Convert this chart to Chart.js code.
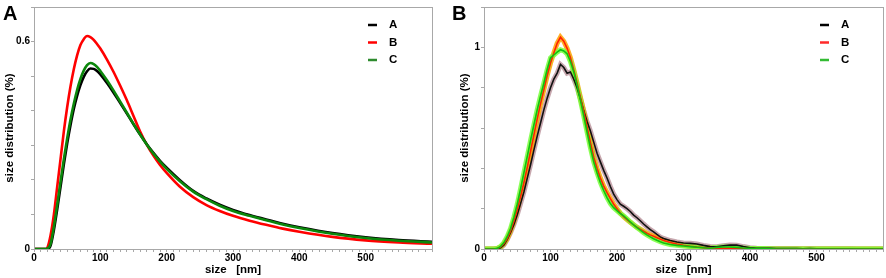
<!DOCTYPE html>
<html>
<head>
<meta charset="utf-8">
<script src="https://cdn.jsdelivr.net/npm/chart.js@4.4.1/dist/chart.umd.min.js"></script>
<style>
  body { margin: 0; background: #fff; width: 886px; height: 278px; overflow: hidden; position: relative; }
  canvas { position: absolute; top: 0; }
  #chartA { left: 0; }
  #chartB { left: 443px; }
  .panel { position: absolute; top: 2px; font: bold 20px "Liberation Sans", Arial, sans-serif; color: #000; }
</style>
</head>
<body>
<canvas id="chartA" width="443" height="278"></canvas>
<canvas id="chartB" width="443" height="278"></canvas>
<div class="panel" style="left:3px">A</div>
<div class="panel" style="left:452px">B</div>
<script>
// panel A - fitted size distributions
var sizeA = [0, 10, 18, 20, 25, 30, 35, 40, 45, 50, 55, 60, 65, 70, 75, 80, 85, 90, 95, 100,
    110, 120, 130, 140, 150, 160, 170, 180, 190, 200, 220, 240, 260, 280, 300, 325, 350, 375, 400,
    450, 500, 550, 600];
var distA_A = [0, 0, 0, 0, 0.01, 0.055, 0.115, 0.18, 0.245, 0.305, 0.358, 0.405, 0.443, 0.474, 0.498, 0.514, 0.522, 0.521, 0.515, 0.505,
    0.48, 0.452, 0.422, 0.392, 0.361, 0.331, 0.303, 0.278, 0.255, 0.235, 0.199, 0.168, 0.146, 0.128, 0.113, 0.098, 0.085, 0.073, 0.063,
    0.046, 0.034, 0.026, 0.021];
var distA_B = [0, 0, 0, 0.003, 0.04, 0.10, 0.18, 0.26, 0.34, 0.41, 0.47, 0.52, 0.56, 0.59, 0.607, 0.616, 0.613, 0.605, 0.593, 0.58,
    0.548, 0.512, 0.472, 0.43, 0.385, 0.34, 0.302, 0.27, 0.243, 0.22, 0.18, 0.15, 0.127, 0.11, 0.096, 0.082, 0.07, 0.059, 0.05,
    0.035, 0.025, 0.019, 0.015];
var distA_C = [0, 0, 0, 0.001, 0.015, 0.065, 0.128, 0.195, 0.26, 0.32, 0.374, 0.42, 0.46, 0.492, 0.516, 0.532, 0.538, 0.535, 0.527, 0.515,
    0.488, 0.458, 0.426, 0.394, 0.362, 0.331, 0.302, 0.276, 0.253, 0.232, 0.196, 0.166, 0.144, 0.125, 0.11, 0.096, 0.083, 0.071, 0.061,
    0.044, 0.032, 0.024, 0.019];

// panel B - measured distributions
var sizeB = [0, 5, 10, 15, 20, 25, 30, 35, 40, 45, 50, 55, 60, 65, 70, 75, 80, 85, 90, 95,
    100, 105, 110, 115, 120, 125, 130, 135, 140, 145, 150, 155, 160, 165, 170, 175, 180, 185, 190, 195,
    200, 205, 210, 215, 220, 225, 230, 235, 240, 245, 250, 255, 260, 265, 270,
    280, 290, 300, 310, 320, 330, 340, 350, 360, 370, 380, 390, 400, 410, 420, 430, 440, 450, 460, 470,
    480, 490, 500, 510, 520, 530, 540, 550, 560, 570, 580, 590, 600];
var distB_A = [0, 0, 0, 0, 0.001, 0.006, 0.02, 0.048, 0.082, 0.122, 0.17, 0.225, 0.283, 0.35, 0.418, 0.49, 0.56, 0.625, 0.69, 0.748,
    0.8, 0.842, 0.872, 0.915, 0.9, 0.872, 0.878, 0.842, 0.8, 0.745, 0.685, 0.632, 0.585, 0.53, 0.475, 0.432, 0.39, 0.352, 0.31, 0.272,
    0.245, 0.222, 0.212, 0.2, 0.186, 0.168, 0.155, 0.14, 0.124, 0.11, 0.096, 0.085, 0.072, 0.06, 0.052,
    0.042, 0.035, 0.03, 0.028, 0.025, 0.018, 0.012, 0.011, 0.016, 0.02, 0.019, 0.012, 0.006, 0.004, 0.003, 0.003, 0.002, 0.002, 0.002, 0.002,
    0.001, 0.002, 0.001, 0.001, 0.001, 0.001, 0.001, 0.001, 0, 0, 0, 0, 0];
var distB_B = [0, 0, 0, 0, 0.002, 0.01, 0.026, 0.052, 0.09, 0.138, 0.195, 0.26, 0.33, 0.405, 0.485, 0.565, 0.645, 0.72, 0.79, 0.86,
    0.922, 0.972, 1.02, 1.05, 1.03, 0.995, 0.948, 0.888, 0.822, 0.752, 0.682, 0.605, 0.528, 0.455, 0.4, 0.352, 0.312, 0.28, 0.25, 0.222,
    0.2, 0.178, 0.16, 0.146, 0.132, 0.12, 0.108, 0.098, 0.088, 0.078, 0.07, 0.063, 0.056, 0.049, 0.042,
    0.032, 0.025, 0.019, 0.014, 0.01, 0.007, 0.005, 0.004, 0.003, 0.003, 0.002, 0.002, 0.001, 0, 0, 0, 0, 0, 0, 0,
    0, 0, 0, 0, 0, 0, 0, 0, 0, 0, 0, 0, 0];
var distB_C = [0, 0, 0, 0, 0.003, 0.013, 0.032, 0.062, 0.102, 0.158, 0.222, 0.298, 0.378, 0.458, 0.538, 0.615, 0.69, 0.758, 0.822, 0.89,
    0.948, 0.962, 0.976, 0.988, 0.982, 0.968, 0.93, 0.878, 0.812, 0.738, 0.66, 0.58, 0.502, 0.432, 0.378, 0.33, 0.29, 0.255, 0.225, 0.205,
    0.19, 0.176, 0.164, 0.15, 0.134, 0.12, 0.106, 0.094, 0.081, 0.07, 0.06, 0.051, 0.043, 0.036, 0.03,
    0.022, 0.018, 0.015, 0.012, 0.009, 0.006, 0.004, 0.008, 0.01, 0.01, 0.008, 0.005, 0.003, 0.002, 0.002, 0.001, 0, 0, 0, 0,
    0, 0, 0, 0, 0, 0, 0, 0, 0, 0, 0, 0, 0];

var seriesNames = ['A', 'B', 'C'];
var xTickLabels = [0, 100, 200, 300, 400, 500];

var FONT = '"Liberation Sans", Arial, sans-serif';

function pts(xs, ys) {
    return xs.map(function (x, i) { return { x: x, y: ys[i] }; });
}

// grey frame round the plot area
var framePlugin = {
    id: 'frame',
    afterDatasetsDraw: function (chart) {
        var a = chart.chartArea, ctx = chart.ctx;
        ctx.save();
        ctx.strokeStyle = '#a8a8a8';
        ctx.lineWidth = 1;
        ctx.strokeRect(Math.round(a.left) + 0.5, Math.round(a.top) + 0.5, Math.round(a.right - a.left), Math.round(a.bottom - a.top));
        ctx.restore();
    }
};

// legend drawn inside the plot, top right
var innerLegend = {
    id: 'innerLegend',
    afterDraw: function (chart, args, opts) {
        var ctx = chart.ctx;
        ctx.save();
        ctx.font = 'bold 11.5px ' + FONT;
        ctx.textBaseline = 'middle';
        ctx.fillStyle = '#000';
        var y = opts.top;
        seriesNames.forEach(function (name) {
            var ds = chart.data.datasets.find(function (d) { return d.label === name; });
            ctx.strokeStyle = ds.legendColor;
            ctx.lineWidth = 2.5;
            ctx.beginPath();
            ctx.moveTo(opts.x, y);
            ctx.lineTo(opts.x + 9, y);
            ctx.stroke();
            ctx.fillText(name, opts.x + 21, y);
            y += opts.gap;
        });
        ctx.restore();
    }
};

function makeScales(yMax, yStep, yLabels, yWidth, titlePad) {
    return {
        x: {
            type: 'linear', min: 0, max: 600,
            border: { display: false },
            grid: { drawOnChartArea: false, tickLength: 3, color: '#a8a8a8' },
            ticks: {
                stepSize: 10, autoSkip: false, maxRotation: 0, padding: 0, color: '#000',
                font: { family: FONT, size: 10, weight: 'bold' },
                callback: function (v) { return xTickLabels.indexOf(v) >= 0 ? String(v) : ''; }
            },
            title: { display: true, text: 'size   [nm]', color: '#000', padding: { top: 0, bottom: 1 },
                font: { family: FONT, size: 11.5, weight: 'bold' } },
            afterFit: function (s) { s.height = 29; }
        },
        y: {
            min: 0, max: yMax,
            border: { display: false },
            grid: { drawOnChartArea: false, tickLength: 3, color: '#a8a8a8' },
            ticks: {
                stepSize: yStep, autoSkip: false, padding: 1, color: '#000',
                font: { family: FONT, size: 10, weight: 'bold' },
                callback: function (v) {
                    for (var i = 0; i < yLabels.length; i++) {
                        if (Math.abs(v - yLabels[i]) < 1e-9) return String(yLabels[i]);
                    }
                    return '';
                }
            },
            title: { display: true, text: 'size distribution (%)', color: '#000', padding: { top: titlePad, bottom: 0 },
                font: { family: FONT, size: 11.5, weight: 'bold' } },
            afterFit: function (s) { s.width = yWidth; }
        }
    };
}

function baseOptions(scales, padLeft, padRight, legendX) {
    return {
        responsive: false,
        animation: false,
        devicePixelRatio: 1,
        layout: { padding: { left: padLeft, right: padRight, top: 3, bottom: 0 } },
        plugins: {
            legend: { display: false },
            tooltip: { enabled: false },
            innerLegend: { x: legendX, top: 25, gap: 17.5 }
        },
        elements: { point: { radius: 0 } },
        scales: scales
    };
}

// panel A
new Chart(document.getElementById('chartA'), {
    type: 'line',
    data: {
        datasets: [
            { label: 'C', data: pts(sizeA, distA_C), borderColor: '#0b870b', legendColor: '#2e8b2e', borderWidth: 2.6, tension: 0.4, cubicInterpolationMode: 'monotone', order: 1 },
            { label: 'A', data: pts(sizeA, distA_A), borderColor: '#000000', legendColor: '#000000', borderWidth: 2.6, tension: 0.4, cubicInterpolationMode: 'monotone', order: 2 },
            { label: 'B', data: pts(sizeA, distA_B), borderColor: '#ff0000', legendColor: '#ff0000', borderWidth: 2.6, tension: 0.4, cubicInterpolationMode: 'monotone', order: 3 }
        ]
    },
    options: baseOptions(makeScales(0.7, 0.1, [0, 0.6], 34, 3), 0, 11, 368),
    plugins: [framePlugin, innerLegend]
});

// panel B - each series with a translucent band behind it
new Chart(document.getElementById('chartB'), {
    type: 'line',
    data: {
        datasets: [
            { label: 'C', data: pts(sizeB, distB_C), borderColor: '#10c010', legendColor: '#33bb33', borderWidth: 1.6, tension: 0, order: 1 },
            { label: 'B', data: pts(sizeB, distB_B), borderColor: '#ff2200', legendColor: '#ff2a2a', borderWidth: 1.6, tension: 0, order: 2 },
            { label: 'A', data: pts(sizeB, distB_A), borderColor: '#111111', legendColor: '#000000', borderWidth: 1.6, tension: 0, order: 3 },
            { label: 'C band', data: pts(sizeB, distB_C), borderColor: 'rgba(120,255,60,0.85)', borderWidth: 5, tension: 0, order: 4 },
            { label: 'B band', data: pts(sizeB, distB_B), borderColor: 'rgba(255,160,0,0.85)', borderWidth: 5, tension: 0, order: 5 },
            { label: 'A band', data: pts(sizeB, distB_A), borderColor: 'rgba(175,130,140,0.7)', borderWidth: 5, tension: 0, order: 6 }
        ]
    },
    options: baseOptions(makeScales(1.2, 0.2, [0, 1], 29, 3), 12, 3, 377),
    plugins: [framePlugin, innerLegend]
});
</script>
</body>
</html>
